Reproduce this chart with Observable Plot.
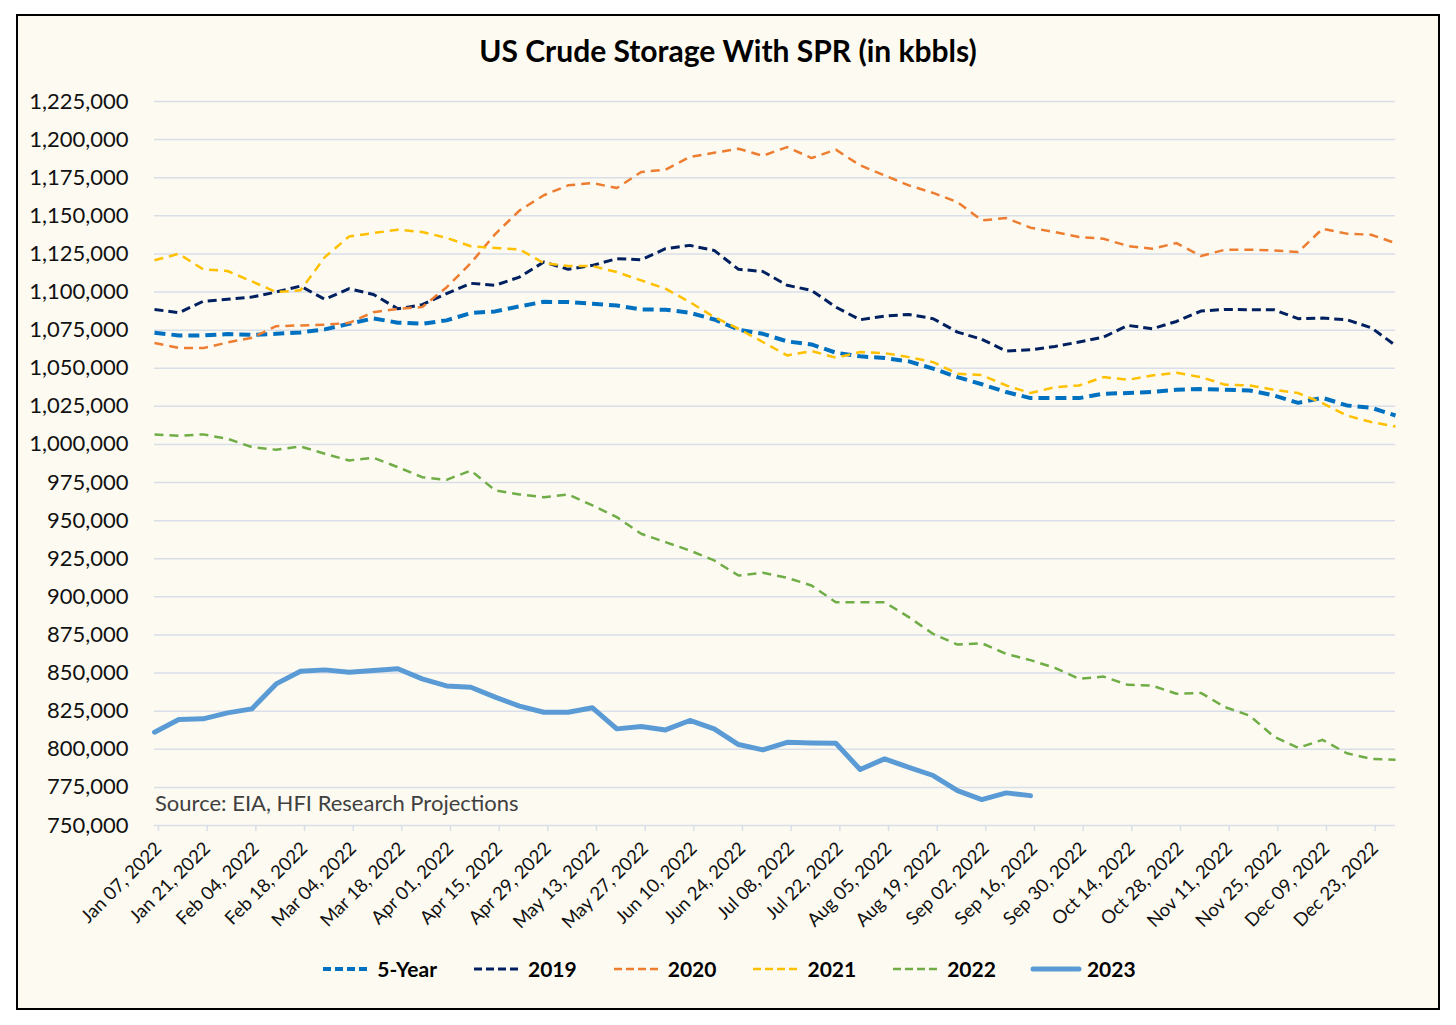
<!DOCTYPE html>
<html>
<head>
<meta charset="utf-8">
<script src="https://cdn.jsdelivr.net/npm/d3@7"></script>
<script src="https://cdn.jsdelivr.net/npm/@observablehq/plot@0.6"></script>
<style>
  html, body { margin: 0; padding: 0; background: #ffffff; }
  #wrap { position: relative; width: 1456px; height: 1025px; overflow: hidden; font-family: Lato, "Open Sans", sans-serif; }
  #frame { position: absolute; left: 16px; top: 14px; width: 1424px; height: 996px; box-sizing: border-box; border: 2px solid #000; background: #FDFBF1; }
  #title { position: absolute; left: 0; width: 1456px; top: 32px; text-align: center; font-weight: 700; font-size: 30px; color: #000; }
  #chart { position: absolute; left: 0; top: 0; }
  #source { position: absolute; left: 155px; top: 789px; font-size: 22px; color: #404040; }
  #legend { position: absolute; left: 0; width: 1456px; top: 956px; display: flex; justify-content: center; gap: 34px; font-weight: 700; font-size: 21px; color: #000; }
  .item { display: flex; align-items: center; gap: 5px; }
  .item svg { display: block; }
</style>
</head>
<body>
<div id="wrap">
  <div id="frame"></div>
  <div id="title">US Crude Storage With SPR (in kbbls)</div>
  <div id="chart"></div>
  <div id="source">Source: EIA, HFI Research Projections</div>
  <div id="legend"></div>
</div>
<script>
// Categories: weekly dates
const weeks = [
  "2022-01-07","2022-01-14","2022-01-21","2022-01-28",
  "2022-02-04","2022-02-11","2022-02-18","2022-02-25",
  "2022-03-04","2022-03-11","2022-03-18","2022-03-25",
  "2022-04-01","2022-04-08","2022-04-15","2022-04-22","2022-04-29",
  "2022-05-06","2022-05-13","2022-05-20","2022-05-27",
  "2022-06-03","2022-06-10","2022-06-17","2022-06-24",
  "2022-07-01","2022-07-08","2022-07-15","2022-07-22","2022-07-29",
  "2022-08-05","2022-08-12","2022-08-19","2022-08-26",
  "2022-09-02","2022-09-09","2022-09-16","2022-09-23","2022-09-30",
  "2022-10-07","2022-10-14","2022-10-21","2022-10-28",
  "2022-11-04","2022-11-11","2022-11-18","2022-11-25",
  "2022-12-02","2022-12-09","2022-12-16","2022-12-23","2022-12-30"
];

// Tick labels on the x axis (every other week)
const xTickWeeks = [
  "2022-01-07","2022-01-21","2022-02-04","2022-02-18","2022-03-04","2022-03-18",
  "2022-04-01","2022-04-15","2022-04-29","2022-05-13","2022-05-27","2022-06-10",
  "2022-06-24","2022-07-08","2022-07-22","2022-08-05","2022-08-19","2022-09-02",
  "2022-09-16","2022-09-30","2022-10-14","2022-10-28","2022-11-11","2022-11-25",
  "2022-12-09","2022-12-23"
];

// Tick values on the y axis
const yTicks = [750000, 775000, 800000, 825000, 850000, 875000, 900000, 925000, 950000, 975000,
  1000000, 1025000, 1050000, 1075000, 1100000, 1125000, 1150000, 1175000, 1200000, 1225000];

// Series (kbbls)
const fiveYear = [1073300,1071500,1071500,1072400,1071900,1072600,1073500,1075500,1079200,1082700,
  1079900,1079200,1081400,1086200,1087300,1090600,1093600,1093400,1092300,1091200,
  1088600,1088400,1086400,1082000,1075300,1072600,1067600,1065600,1060200,1057800,
  1056700,1054500,1049700,1044200,1039500,1034400,1030400,1030400,1030400,1033300,
  1033700,1034400,1035900,1036300,1035900,1035400,1032200,1027300,1030600,1025600,
  1024100,1019000];

const y2019 = [1088600,1086400,1093900,1095200,1096700,1100000,1103900,1095200,1102200,1098400,
  1089000,1091700,1098900,1105700,1104400,1109800,1119700,1114900,1117500,1121900,
  1121200,1128400,1130600,1127300,1114900,1113500,1104400,1101100,1090100,1081800,
  1084200,1085300,1082500,1073700,1069000,1061300,1062100,1064300,1067200,1070400,
  1078100,1075900,1080700,1087500,1088600,1088400,1088400,1082500,1082900,1081800,
  1076600,1065000];

const y2020 = [1066500,1063400,1063200,1066900,1070000,1077600,1078100,1078500,1079800,1086800,
  1089000,1090100,1103000,1119000,1138000,1153500,1163500,1170000,1171500,1168200,
  1178700,1180300,1188600,1191400,1194000,1189400,1195100,1187900,1193400,1183100,
  1176500,1170000,1165000,1159000,1147000,1148500,1142200,1139300,1136100,1135000,
  1130200,1128400,1132100,1123600,1127800,1127800,1127300,1126200,1141500,1138300,
  1137600,1132100];

const y2021 = [1120800,1125100,1114900,1113800,1107000,1100000,1101100,1122900,1136500,1138700,
  1140900,1139400,1135600,1130000,1128900,1128000,1119000,1117000,1117000,1113100,
  1107600,1102200,1093400,1083600,1075900,1067200,1058400,1061300,1056900,1060600,
  1059900,1057300,1054000,1046400,1045500,1038700,1033700,1037600,1038700,1044200,
  1042400,1045300,1047000,1044200,1039200,1038700,1035900,1033700,1027100,1019000,
  1014700,1011800];

const y2022 = [1006600,1005700,1006600,1003700,998300,996500,998700,993900,989500,991300,
  985100,978500,976800,982900,969800,967200,965400,967200,960000,952300,
  941400,935900,930400,923900,914000,915800,912500,907500,896500,896500,
  896500,886700,875700,868700,869600,862600,858500,853400,846200,847700,
  842300,841800,836400,837000,827600,822100,808400,800900,806200,797400,
  793700,793100];

const y2023 = [811200,819500,820000,823900,826500,842900,851200,852100,850600,851700,
  852800,846200,841600,840700,834200,828300,824300,824300,827200,813400,
  814900,812700,818900,813400,803100,799600,804600,804200,804000,786700,
  793700,788200,782800,772900,767000,771400,769600];

const seriesNames = ["5-Year", "2019", "2020", "2021", "2022", "2023"];
const seriesValues = [fiveYear, y2019, y2020, y2021, y2022, y2023];

// Styles (kept apart from the data)
const styles = {
  "5-Year": {stroke: "#0070C0", width: 4,   dash: "11,6"},
  "2019":   {stroke: "#002060", width: 3,   dash: "9,5"},
  "2020":   {stroke: "#ED7D31", width: 2.5, dash: "9,6"},
  "2021":   {stroke: "#FFC000", width: 2.5, dash: "9,6"},
  "2022":   {stroke: "#70AD47", width: 2.5, dash: "9,6"},
  "2023":   {stroke: "#5B9BD5", width: 5,   dash: null}
};

const parse = d3.utcParse("%Y-%m-%d");
const fmt = d3.utcFormat("%b %d, %Y");

const lineMarks = seriesNames.map((name, s) => {
  const rows = seriesValues[s].map((v, i) => ({week: parse(weeks[i]), value: v}));
  const st = styles[name];
  return Plot.line(rows, {
    x: "week", y: "value",
    stroke: st.stroke, strokeWidth: st.width,
    strokeDasharray: st.dash || undefined,
    strokeLinejoin: "round",
    strokeLinecap: st.dash ? "butt" : "round"
  });
});

const chart = Plot.plot({
  width: 1456,
  height: 960,
  marginLeft: 154,
  marginRight: 61,
  marginTop: 101,
  marginBottom: 135,
  style: {background: "transparent", fontFamily: "Lato, 'Open Sans', sans-serif", overflow: "visible"},
  x: {type: "utc", domain: [parse(weeks[0]), parse(weeks[weeks.length - 1])]},
  y: {domain: [750000, 1225000]},
  marks: [
    Plot.gridY(yTicks, {x1: parse(weeks[0]), x2: parse(weeks[weeks.length - 1]), dx: 0, stroke: "#D9DEE8", strokeOpacity: 1, strokeWidth: 1.5}),
    Plot.axisY(yTicks, {tickSize: 0, tickPadding: 26, tickFormat: d3.format(","), fontSize: 22, fill: "#111", label: null}),
    Plot.axisX(xTickWeeks.map(parse), {
      tickSize: 6, stroke: "#D9DEE8", strokeWidth: 1.5,
      tickRotate: -45, textAnchor: "end", lineAnchor: "middle",
      tickPadding: 14, dx: 4,
      tickFormat: d => fmt(d), fontSize: 18.5, fill: "#111", label: null
    }),
    ...lineMarks
  ]
});
document.getElementById("chart").appendChild(chart);

// Legend
const legend = document.getElementById("legend");
seriesNames.forEach(name => {
  const st = styles[name];
  const item = document.createElement("div");
  item.className = "item";
  const ns = "http://www.w3.org/2000/svg";
  const svg = document.createElementNS(ns, "svg");
  svg.setAttribute("width", 52);
  svg.setAttribute("height", 14);
  const ln = document.createElementNS(ns, "line");
  ln.setAttribute("x1", 3); ln.setAttribute("x2", 49);
  ln.setAttribute("y1", 7); ln.setAttribute("y2", 7);
  ln.setAttribute("stroke", st.stroke);
  ln.setAttribute("stroke-width", st.width);
  if (st.dash) ln.setAttribute("stroke-dasharray", "8,4");
  else ln.setAttribute("stroke-linecap", "round");
  svg.appendChild(ln);
  const label = document.createElement("span");
  label.textContent = name;
  item.appendChild(svg);
  item.appendChild(label);
  legend.appendChild(item);
});
</script>
</body>
</html>
